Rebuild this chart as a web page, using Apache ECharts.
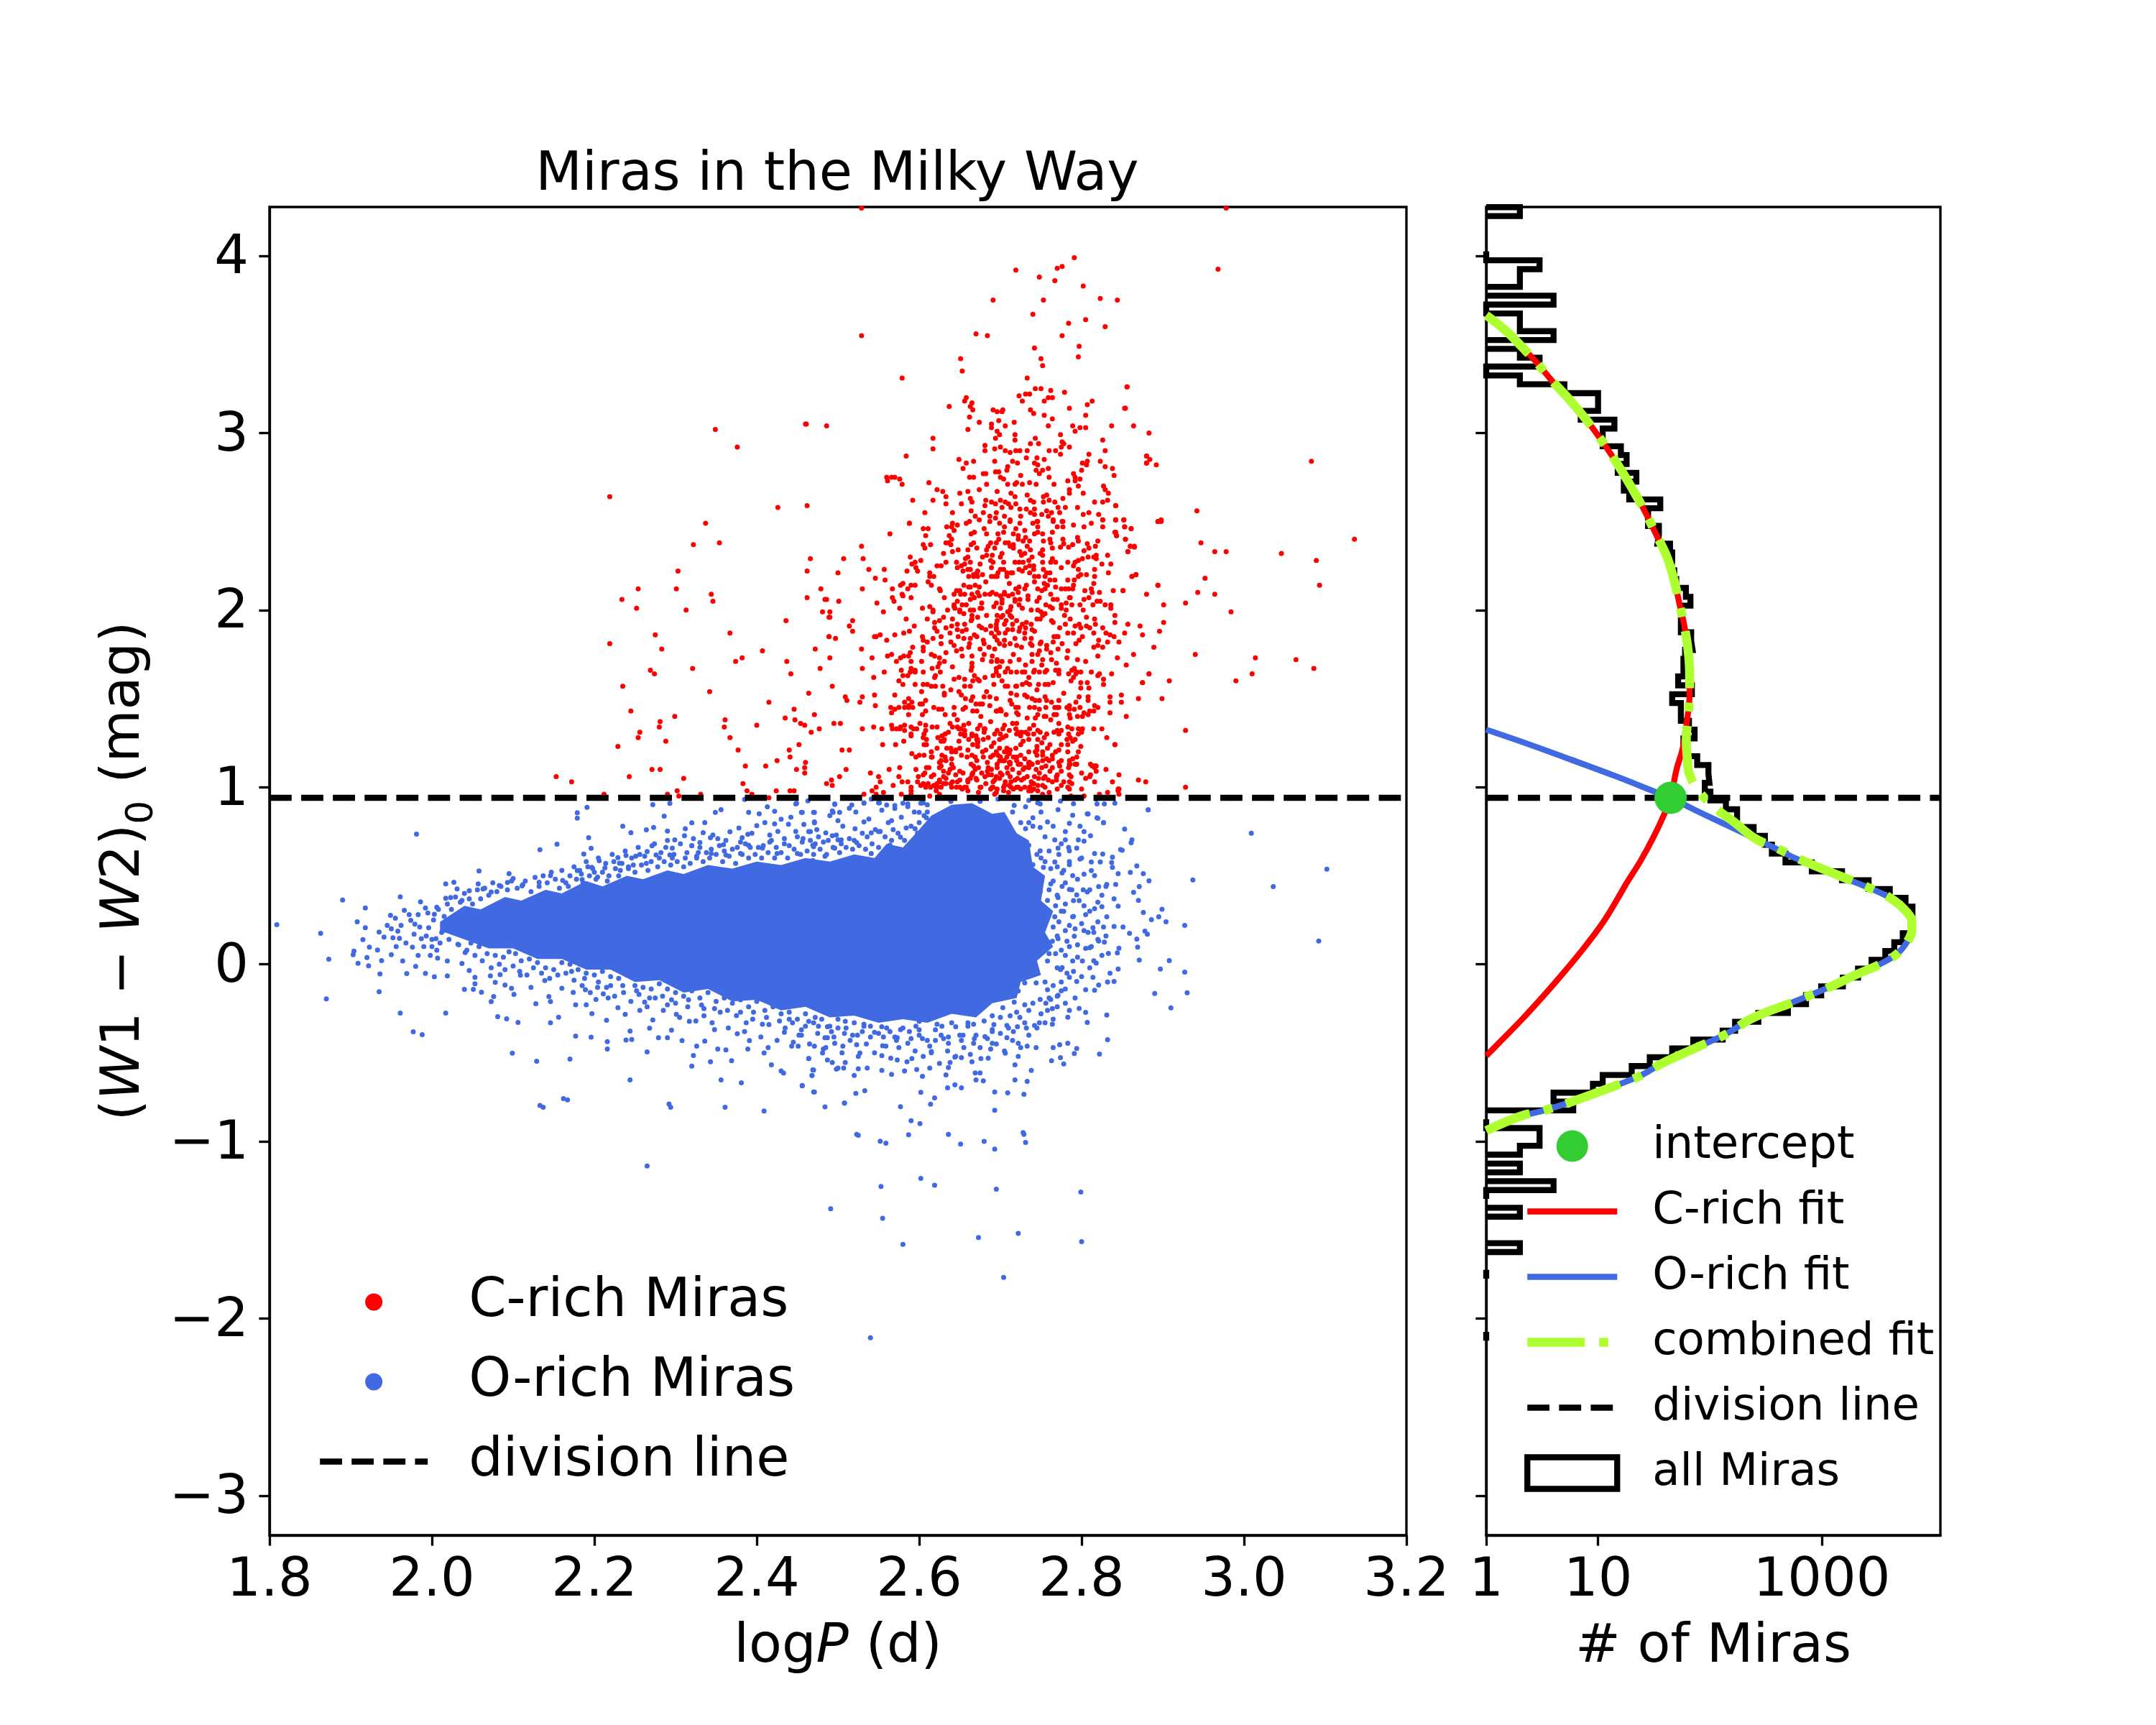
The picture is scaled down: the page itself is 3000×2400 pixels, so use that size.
<!DOCTYPE html>
<html>
<head>
<meta charset="utf-8">
<title>Miras in the Milky Way</title>
<script src="https://cdn.jsdelivr.net/npm/echarts@6/dist/echarts.min.js"></script>
<style>
html, body { margin: 0; padding: 0; background: #fff; }
#chart { width: 3000px; height: 2400px; }
</style>
</head>
<body>
<div id="chart"></div>
<script>
// tick labels
var logPTicks = [1.8, 2.0, 2.2, 2.4, 2.6, 2.8, 3.0, 3.2];
var colorTicks = [-3, -2, -1, 0, 1, 2, 3, 4];
var countTicks = [1, 10, 1000];
var divisionColor = 0.94;
var interceptCount = 44.5;

// C-rich Miras: logP, colour, logP, colour, ...
var cRichPoints = [
2.529,4.27,2.978,4.27,2.968,3.925,2.791,3.99,2.776,3.94,2.770,3.93,2.719,3.92,2.748,3.88,2.767,3.86,2.802,3.83,2.691,3.75,2.753,3.75,2.823,3.76,2.844,3.75,
2.740,3.67,2.784,3.62,2.805,3.64,2.829,3.60,2.529,3.55,2.670,3.56,2.684,3.55,2.776,3.55,2.742,3.48,2.797,3.49,2.796,3.43,2.651,3.42,2.750,3.42,2.653,3.35,
2.752,3.38,2.579,3.31,2.733,3.31,2.856,3.26,2.743,3.25,2.750,3.25,2.762,3.24,2.779,3.23,2.723,3.21,2.731,3.22,2.736,3.22,2.759,3.20,2.764,3.20,2.727,3.18,
2.754,3.18,2.658,3.20,2.656,3.18,2.665,3.17,2.663,3.15,2.637,3.15,2.666,3.13,2.691,3.13,2.696,3.12,2.703,3.13,2.702,3.12,2.737,3.13,2.741,3.11,2.754,3.10,
2.764,3.08,2.785,3.14,2.807,3.16,2.813,3.18,2.805,3.10,2.853,3.14,2.662,3.09,2.674,3.06,2.689,3.05,2.698,3.07,2.717,3.06,2.461,3.05,2.486,3.04,2.689,3.03,
2.706,3.04,2.759,3.04,2.789,3.04,2.798,3.03,2.805,3.03,2.837,3.04,2.864,3.04,2.660,3.02,2.696,3.01,2.792,3.01,2.699,2.99,2.718,2.99,2.774,2.99,2.883,3.00,
2.617,2.97,2.694,2.97,2.743,2.97,2.718,2.96,2.826,2.96,2.776,2.95,2.737,2.94,2.747,2.94,2.778,2.94,2.681,2.93,2.700,2.92,2.785,2.92,2.775,2.92,2.617,2.91,
2.693,2.91,2.719,2.90,2.724,2.90,2.681,2.90,2.706,2.90,2.712,2.89,2.733,2.90,2.760,2.90,2.768,2.90,2.829,2.90,2.774,2.88,2.809,2.88,2.584,2.87,2.880,2.87,
2.745,2.86,2.732,2.86,2.649,2.85,2.667,2.84,2.693,2.84,2.715,2.84,2.754,2.85,2.807,2.84,2.658,2.83,2.721,2.83,2.742,2.83,2.801,2.83,2.823,2.84,2.880,2.83,
2.746,2.82,2.709,2.81,2.806,2.82,2.829,2.81,2.654,2.80,2.744,2.79,2.759,2.80,2.838,2.80,2.708,2.79,2.752,2.79,2.800,2.79,2.694,2.78,2.698,2.78,2.748,2.77,
2.682,2.77,2.679,2.77,2.790,2.77,2.840,2.76,2.560,2.75,2.566,2.75,2.570,2.75,2.662,2.75,2.667,2.75,2.700,2.75,2.725,2.76,2.760,2.75,2.792,2.75,2.704,2.74,
2.576,2.74,2.798,2.74,2.561,2.73,2.612,2.72,2.783,2.73,2.792,2.73,2.683,2.71,2.720,2.72,2.718,2.71,2.727,2.71,2.736,2.72,2.709,2.71,2.744,2.71,2.579,2.71,2.766,2.71,
// 2.5 to 2.7
2.622,2.68,2.629,2.67,2.650,2.66,2.660,2.67,2.674,2.68,2.696,2.67,2.713,2.66,2.718,2.64,2.733,2.65,2.757,2.65,2.753,2.64,2.785,2.68,2.785,2.66,2.796,2.70,2.802,2.66,2.827,2.70,2.829,2.68,
2.833,2.66,2.592,2.62,2.617,2.62,2.633,2.64,2.633,2.60,2.663,2.63,2.665,2.61,2.652,2.60,2.682,2.62,2.689,2.61,2.700,2.62,2.694,2.60,2.706,2.61,2.710,2.60,2.713,2.58,2.702,2.58,2.719,2.60,
2.737,2.62,2.741,2.61,2.753,2.61,2.760,2.62,2.767,2.61,2.777,2.63,2.771,2.58,2.780,2.58,2.795,2.58,2.816,2.61,2.826,2.61,2.832,2.62,2.842,2.59,2.681,2.59,2.664,2.56,2.641,2.55,2.607,2.55,
2.679,2.55,2.695,2.55,2.724,2.57,2.732,2.57,2.742,2.57,2.757,2.56,2.763,2.55,2.737,2.55,2.742,2.54,2.751,2.54,2.773,2.55,2.809,2.55,2.802,2.54,2.821,2.54,2.669,2.53,2.687,2.53,2.705,2.53,
2.725,2.53,2.759,2.53,2.826,2.51,2.842,2.51,2.852,2.51,2.674,2.51,2.694,2.52,2.712,2.50,2.745,2.50,2.765,2.50,2.776,2.50,2.588,2.49,
// core, upper part
2.588,2.49,2.605,2.46,2.611,2.46,2.634,2.47,2.641,2.49,2.640,2.47,2.647,2.48,2.658,2.49,2.662,2.50,2.680,2.46,2.687,2.50,2.699,2.49,2.705,2.47,2.712,2.51,2.719,2.46,2.724,2.49,
2.730,2.45,2.740,2.49,2.746,2.50,2.746,2.47,2.765,2.51,2.770,2.47,2.777,2.50,2.777,2.47,2.790,2.48,2.803,2.47,2.812,2.49,2.826,2.51,2.826,2.47,2.842,2.51,2.852,2.51,2.853,2.47,
2.861,2.46,2.894,2.50,2.898,2.51,2.564,2.43,2.608,2.42,2.637,2.42,2.643,2.45,2.664,2.43,2.683,2.43,2.697,2.43,2.704,2.44,2.716,2.43,2.722,2.42,2.742,2.43,2.746,2.44,2.752,2.43,
2.764,2.44,2.841,2.44,2.843,2.42,2.854,2.40,2.529,2.36,2.605,2.37,2.607,2.35,2.614,2.37,2.633,2.38,2.636,2.38,2.639,2.37,2.640,2.40,2.648,2.34,2.660,2.34,2.664,2.37,2.667,2.38,
2.671,2.35,2.683,2.34,2.685,2.36,2.688,2.38,2.693,2.35,2.695,2.38,2.698,2.40,2.706,2.38,2.710,2.38,2.716,2.37,2.716,2.35,2.722,2.40,2.728,2.39,2.731,2.41,2.736,2.39,2.733,2.36,
2.737,2.34,2.752,2.34,2.761,2.40,2.762,2.38,2.764,2.35,2.777,2.40,2.774,2.355,2.778,2.375,2.784,2.355,2.789,2.37,2.795,2.41,2.796,2.39,2.807,2.375,2.803,2.335,2.809,2.35,2.817,2.36,
2.820,2.39,2.857,2.33,2.860,2.36,2.865,2.355,
2.507,2.29,2.531,2.29,2.589,2.30,2.595,2.27,2.591,2.26,2.602,2.28,2.630,2.32,2.641,2.33,2.633,2.27,2.622,2.25,2.627,2.25,2.646,2.27,2.657,2.29,2.660,2.30,2.663,2.27,2.656,2.26,
2.678,2.30,2.683,2.31,2.690,2.31,2.688,2.28,2.691,2.27,2.700,2.30,2.702,2.32,2.704,2.27,2.718,2.27,2.724,2.33,2.723,2.27,2.728,2.27,2.730,2.32,2.726,2.31,2.739,2.30,2.749,2.32,
2.752,2.31,2.752,2.27,2.762,2.27,2.764,2.29,2.768,2.27,2.783,2.27,2.792,2.27,2.796,2.28,2.801,2.29,2.808,2.30,2.815,2.30,2.818,2.31,2.818,2.29,2.825,2.26,2.832,2.31,2.836,2.26,
2.500,2.21,2.538,2.23,2.557,2.23,2.546,2.18,2.558,2.17,2.585,2.22,2.598,2.22,2.596,2.24,2.613,2.21,2.613,2.19,2.618,2.19,2.647,2.24,2.654,2.22,2.652,2.25,2.660,2.23,2.663,2.23,
2.661,2.19,2.667,2.19,2.667,2.20,2.671,2.21,2.672,2.22,2.672,2.19,2.678,2.20,2.689,2.24,2.689,2.19,2.693,2.19,2.696,2.19,2.697,2.21,2.700,2.23,2.704,2.23,2.708,2.21,2.708,2.19,
2.713,2.21,2.715,2.21,2.723,2.23,2.727,2.22,2.731,2.24,2.736,2.25,2.741,2.25,2.741,2.23,2.736,2.21,2.742,2.19,2.747,2.19,2.753,2.23,2.755,2.19,2.757,2.21,2.761,2.21,2.761,2.17,
2.767,2.17,2.783,2.17,2.790,2.25,2.796,2.23,2.791,2.17,2.796,2.19,2.799,2.20,2.806,2.20,2.816,2.19,2.816,2.23,2.833,2.21,2.862,2.19,2.867,2.20,
2.530,2.12,2.567,2.12,2.567,2.07,2.577,2.14,2.580,2.15,2.590,2.14,2.586,2.12,2.595,2.14,2.579,2.09,2.580,2.08,2.590,2.07,2.611,2.16,2.615,2.14,2.625,2.12,2.626,2.11,2.643,2.09,
2.646,2.11,2.650,2.11,2.655,2.14,2.651,2.09,2.656,2.09,2.661,2.13,2.663,2.13,2.665,2.09,2.669,2.14,2.672,2.10,2.674,2.13,2.674,2.08,2.681,2.09,2.687,2.09,2.690,2.10,2.695,2.09,
2.700,2.08,2.705,2.10,2.705,2.09,2.710,2.08,2.715,2.09,2.719,2.12,2.723,2.13,2.722,2.10,2.730,2.12,2.732,2.14,2.734,2.08,2.746,2.12,2.751,2.11,2.754,2.15,2.755,2.12,
2.758,2.14,2.762,2.09,2.775,2.12,2.780,2.12,2.784,2.12,2.790,2.14,2.789,2.12,2.785,2.07,2.804,2.11,2.812,2.12,2.815,2.15,2.813,2.10,2.822,2.10,2.839,2.11,2.851,2.11,2.880,2.09,2.894,2.14,
2.486,2.06,2.501,2.05,2.548,2.04,2.569,2.05,2.576,2.01,2.490,1.99,2.556,1.99,2.604,2.01,2.613,2.02,2.617,2.00,2.617,1.99,2.631,2.07,2.643,2.02,2.643,2.03,2.635,2.00,2.647,2.05,
2.644,2.01,2.653,2.03,2.650,2.00,2.658,2.03,2.650,1.99,2.663,2.00,2.655,1.98,2.667,2.00,2.668,2.07,2.677,2.04,2.677,2.01,2.675,2.01,2.695,2.04,2.702,2.06,2.702,2.04,2.700,2.01,
2.713,2.02,2.712,2.00,2.709,1.99,2.718,2.06,2.718,2.05,2.724,2.06,2.723,2.03,2.734,2.06,2.738,2.00,2.748,2.07,2.745,2.05,2.746,2.00,2.750,1.99,2.756,2.03,2.761,2.02,2.764,2.01,
2.765,2.06,2.770,2.06,2.775,2.03,2.775,2.01,2.781,2.04,2.786,2.07,2.788,2.03,2.781,2.00,2.798,2.03,2.803,2.06,2.802,2.00,2.809,2.07,2.814,2.03,2.819,2.05,2.823,2.05,2.829,2.03,
2.836,2.03,2.836,2.01,2.901,2.03,2.928,2.04,
2.490,1.96,2.518,1.94,2.514,1.91,2.518,1.88,2.584,1.95,2.594,1.91,2.588,1.88,2.610,1.95,2.619,1.93,2.619,1.90,2.625,1.94,2.630,1.96,2.633,1.90,2.622,1.88,2.641,1.95,2.647,1.92,
2.640,1.91,2.647,1.89,2.656,1.92,2.658,1.89,2.664,1.94,2.665,1.97,2.665,1.95,2.674,1.91,2.677,1.90,2.682,1.89,2.683,1.97,2.688,1.91,2.695,1.92,2.695,1.90,2.695,1.89,2.696,1.97,
2.696,1.94,2.703,1.97,2.701,1.96,2.705,1.92,2.712,1.97,2.714,1.96,2.715,1.92,2.715,1.89,2.709,1.89,2.720,1.94,2.724,1.90,2.723,1.88,2.727,1.92,2.731,1.90,2.732,1.93,2.738,1.92,
2.739,1.89,2.745,1.95,2.749,1.95,2.752,1.97,2.763,1.94,2.765,1.93,2.780,1.92,2.779,1.97,2.786,1.95,2.792,1.91,2.797,1.92,2.799,1.90,2.806,1.96,2.806,1.91,2.816,1.95,2.817,1.92,
2.810,1.90,2.826,1.90,2.841,1.93,2.857,1.92,2.872,1.91,2.901,1.93,2.896,1.88,
2.489,1.85,2.497,1.84,2.545,1.85,2.547,1.85,2.552,1.86,2.560,1.83,2.570,1.86,2.581,1.87,2.604,1.85,2.605,1.83,2.610,1.82,2.617,1.84,2.627,1.85,2.627,1.81,2.638,1.87,2.639,1.82,
2.643,1.80,2.648,1.85,2.655,1.84,2.662,1.81,2.663,1.84,2.668,1.86,2.671,1.85,2.679,1.83,2.680,1.81,2.693,1.85,2.696,1.83,2.699,1.81,2.689,1.87,2.698,1.87,2.706,1.87,2.705,1.83,
2.712,1.81,2.720,1.80,2.730,1.87,2.730,1.84,2.738,1.84,2.737,1.81,2.739,1.80,2.749,1.81,2.750,1.82,2.757,1.80,2.765,1.82,2.766,1.85,2.769,1.85,2.771,1.85,2.776,1.81,2.783,1.87,
2.790,1.87,2.797,1.83,2.801,1.85,2.793,1.81,2.815,1.87,2.821,1.83,2.820,1.80,2.830,1.87,2.835,1.86,2.840,1.85,2.832,1.82,2.846,1.82,2.853,1.87,2.875,1.86,
2.529,1.78,2.490,1.73,2.542,1.73,2.561,1.74,2.566,1.75,2.581,1.74,2.589,1.76,2.592,1.79,2.587,1.74,2.577,1.73,2.572,1.71,2.590,1.71,2.603,1.71,2.605,1.79,2.605,1.77,2.615,1.75,
2.619,1.74,2.625,1.73,2.625,1.70,2.633,1.76,2.623,1.68,2.631,1.71,2.646,1.77,2.652,1.78,2.653,1.74,2.661,1.79,2.665,1.74,2.665,1.70,2.665,1.68,2.675,1.78,2.680,1.75,2.690,1.74,
2.693,1.78,2.689,1.71,2.696,1.72,2.696,1.71,2.702,1.71,2.716,1.75,2.705,1.80,2.699,1.68,2.695,1.67,2.712,1.71,2.723,1.72,2.726,1.79,2.739,1.75,2.739,1.71,2.746,1.75,2.752,1.72,
2.751,1.69,2.757,1.78,2.762,1.76,2.769,1.70,2.763,1.72,2.771,1.78,2.783,1.77,2.782,1.73,2.795,1.72,2.791,1.67,2.805,1.71,2.815,1.79,2.826,1.79,2.820,1.74,2.855,1.69,
2.578,1.66,2.590,1.67,2.605,1.65,2.616,1.67,2.626,1.65,2.664,1.66,2.695,1.65,2.709,1.67,2.730,1.65,2.757,1.66,2.772,1.66,2.784,1.64,2.793,1.64,2.822,1.64,2.837,1.64,
// core, lower part
2.493,1.57,2.530,1.67,2.544,1.62,2.557,1.65,2.575,1.60,2.580,1.58,2.580,1.63,2.586,1.63,2.595,1.66,2.589,1.65,2.595,1.65,2.595,1.58,2.605,1.58,2.603,1.54,2.610,1.58,2.615,1.57,
2.620,1.57,2.619,1.62,2.620,1.63,2.629,1.57,2.631,1.53,2.639,1.55,2.649,1.54,2.649,1.62,2.656,1.57,2.656,1.61,2.663,1.57,2.666,1.60,2.672,1.61,2.674,1.60,2.681,1.62,2.691,1.63,
2.692,1.58,2.698,1.63,2.706,1.57,2.709,1.57,2.713,1.65,2.706,1.65,2.719,1.57,2.720,1.65,2.720,1.57,2.727,1.58,2.727,1.65,2.732,1.59,2.736,1.58,2.741,1.65,2.742,1.66,2.747,1.58,
2.748,1.65,2.755,1.65,2.755,1.58,2.759,1.58,2.772,1.64,2.788,1.66,2.787,1.60,2.790,1.62,2.794,1.65,2.799,1.65,2.799,1.59,2.799,1.56,2.807,1.59,2.812,1.65,2.809,1.56,2.820,1.63,
2.827,1.61,2.827,1.58,2.875,1.59,2.883,1.64,2.908,1.60,
2.509,1.51,2.511,1.49,2.527,1.48,2.530,1.51,2.545,1.52,2.546,1.46,2.570,1.52,2.565,1.45,2.570,1.44,2.566,1.42,2.575,1.45,2.582,1.45,2.582,1.48,2.587,1.45,2.587,1.41,2.587,1.50,
2.587,1.46,2.592,1.45,2.591,1.48,2.601,1.47,2.604,1.41,2.604,1.47,2.608,1.49,2.608,1.43,2.618,1.45,2.624,1.44,2.628,1.44,2.631,1.52,2.632,1.41,2.643,1.45,2.643,1.41,2.657,1.45,
2.654,1.44,2.657,1.50,2.664,1.49,2.666,1.51,2.666,1.43,2.671,1.43,2.675,1.47,2.678,1.47,2.670,1.47,2.687,1.46,2.680,1.51,2.687,1.51,2.695,1.50,2.695,1.43,2.700,1.44,
2.696,1.43,2.701,1.43,2.712,1.49,2.714,1.47,2.719,1.45,2.720,1.52,2.720,1.42,2.730,1.52,2.722,1.45,2.722,1.41,2.733,1.51,2.736,1.45,2.739,1.50,2.742,1.45,2.748,1.49,2.743,1.49,
2.746,1.41,2.743,1.39,2.748,1.44,2.754,1.40,2.755,1.51,2.757,1.49,2.756,1.45,2.756,1.40,2.763,1.48,2.767,1.45,2.770,1.45,2.769,1.41,2.766,1.41,2.772,1.49,2.772,1.45,2.782,1.45,
2.785,1.46,2.785,1.41,2.786,1.39,2.791,1.44,2.795,1.40,2.797,1.51,2.793,1.48,2.785,1.44,2.798,1.45,2.803,1.42,2.801,1.40,2.808,1.51,2.808,1.49,2.808,1.41,2.810,1.43,2.816,1.46,
2.815,1.43,2.820,1.45,2.835,1.48,2.835,1.51,2.835,1.42,2.849,1.52,2.849,1.48,2.899,1.50,2.870,1.50,
2.495,1.36,2.503,1.36,2.530,1.33,2.544,1.34,2.554,1.33,2.566,1.35,2.567,1.33,2.576,1.33,2.572,1.33,2.577,1.34,2.582,1.32,2.582,1.35,2.590,1.34,2.590,1.29,2.590,1.30,2.593,1.33,
2.601,1.36,2.597,1.33,2.605,1.28,2.606,1.30,2.608,1.32,2.608,1.35,2.609,1.27,2.616,1.34,2.622,1.34,2.628,1.29,2.623,1.28,2.632,1.30,2.641,1.34,2.638,1.36,2.631,1.27,2.627,1.26,
2.630,1.26,2.647,1.34,2.651,1.33,2.651,1.30,2.655,1.35,2.649,1.33,2.656,1.32,2.661,1.36,2.656,1.29,2.661,1.27,2.665,1.30,2.656,1.30,2.670,1.29,2.672,1.33,2.671,1.27,
2.675,1.35,2.672,1.27,2.672,1.25,2.672,1.26,2.665,1.29,2.680,1.33,2.681,1.33,2.680,1.31,2.685,1.28,2.679,1.27,2.693,1.30,2.696,1.32,2.699,1.27,2.700,1.30,2.703,1.33,2.705,1.35,
2.703,1.28,2.707,1.29,2.711,1.32,2.720,1.36,2.719,1.33,2.720,1.30,2.722,1.31,2.725,1.29,2.726,1.31,2.731,1.31,2.736,1.33,2.735,1.27,2.728,1.26,2.734,1.30,2.741,1.30,2.746,1.32,
2.746,1.27,2.749,1.31,2.757,1.30,2.754,1.28,2.766,1.31,2.772,1.30,2.770,1.32,2.775,1.32,2.783,1.34,2.784,1.30,2.788,1.33,2.786,1.28,2.789,1.26,2.796,1.33,2.796,1.30,2.792,1.27,
2.800,1.31,2.801,1.33,2.815,1.33,2.825,1.33,2.831,1.28,
2.505,1.21,2.514,1.21,2.555,1.24,2.571,1.24,2.581,1.26,2.591,1.19,2.600,1.18,2.606,1.18,2.596,1.17,2.606,1.24,2.609,1.24,2.616,1.17,2.615,1.20,2.622,1.22,2.625,1.14,2.628,1.18,
2.615,1.17,2.627,1.15,2.639,1.22,2.640,1.20,2.632,1.17,2.633,1.15,2.640,1.13,2.645,1.21,2.640,1.16,2.645,1.20,2.652,1.18,2.650,1.22,2.659,1.17,2.665,1.18,2.660,1.21,2.672,1.23,
2.669,1.17,2.678,1.20,2.671,1.15,2.679,1.17,2.682,1.21,2.684,1.14,2.689,1.23,2.688,1.17,2.696,1.13,2.691,1.18,2.695,1.20,2.697,1.18,2.699,1.15,2.700,1.17,2.705,1.20,2.708,1.22,
2.699,1.22,2.702,1.15,2.704,1.15,2.711,1.19,2.712,1.14,2.712,1.13,2.711,1.14,2.712,1.21,2.705,1.15,2.719,1.22,2.708,1.20,2.716,1.17,2.708,1.17,2.720,1.17,2.723,1.13,2.720,1.15,
2.725,1.18,2.722,1.13,2.725,1.13,2.730,1.16,2.735,1.20,2.735,1.14,2.739,1.13,2.736,1.14,2.743,1.20,2.735,1.13,2.745,1.23,2.745,1.21,2.745,1.18,2.746,1.14,2.739,1.13,2.752,1.15,
2.752,1.20,2.752,1.18,2.758,1.22,2.757,1.16,2.760,1.15,2.761,1.24,2.764,1.18,2.764,1.16,2.768,1.20,2.775,1.24,2.772,1.21,2.772,1.14,2.775,1.15,2.783,1.24,2.783,1.20,2.785,1.15,
2.785,1.13,2.792,1.13,2.794,1.13,2.799,1.23,2.796,1.20,2.794,1.17,2.789,1.16,2.811,1.13,2.815,1.12,2.818,1.12,2.817,1.12,2.841,1.24,
2.510,1.10,2.502,1.06,2.540,1.08,2.550,1.06,2.552,1.03,2.547,1.00,2.563,1.10,2.576,1.11,2.575,1.06,2.568,1.01,2.579,1.03,2.586,1.03,2.596,1.10,2.598,1.03,2.599,1.06,2.605,1.02,
2.602,1.01,2.607,1.08,2.605,1.07,2.611,1.02,2.609,1.11,2.612,1.11,2.618,1.07,2.614,1.00,2.608,1.01,2.615,1.06,2.618,1.01,2.622,1.00,2.625,1.03,2.622,1.02,2.621,1.00,2.625,1.11,
2.625,1.04,2.630,1.02,2.627,1.12,2.638,1.10,2.630,1.09,2.630,1.06,2.639,1.02,2.627,1.00,2.633,1.02,2.636,1.08,2.642,1.11,2.641,1.03,2.647,1.03,2.650,1.04,2.646,1.00,2.650,1.09,
2.654,1.08,2.656,1.00,2.658,1.00,2.665,1.07,2.660,1.03,2.660,1.04,2.663,1.05,2.667,1.12,2.666,1.08,2.671,1.04,2.673,1.11,2.669,1.10,2.670,1.05,2.676,1.00,2.677,1.08,2.684,1.09,
2.685,1.07,2.682,1.02,2.685,1.11,2.689,1.10,2.690,1.00,2.689,1.07,2.691,1.03,2.693,1.04,2.691,1.00,2.696,1.11,2.699,1.05,2.700,1.08,2.704,1.00,2.702,1.07,2.706,1.03,2.709,1.08,
2.708,1.11,2.705,1.01,2.711,1.01,2.718,1.04,2.713,1.03,2.715,1.10,2.720,1.00,2.721,1.05,2.729,1.05,2.723,1.08,2.730,1.11,2.726,1.04,2.735,1.11,2.730,1.00,2.733,1.06,2.736,1.00,
2.738,1.03,2.742,1.06,2.739,1.02,2.741,1.02,2.746,1.01,2.751,1.11,2.755,1.06,2.753,1.05,2.756,1.12,2.747,1.05,2.752,1.01,2.759,1.04,2.761,1.09,2.764,1.03,2.764,1.11,
2.769,1.06,2.773,1.12,2.770,1.07,2.769,1.04,2.778,1.03,2.787,1.06,2.788,1.02,2.783,1.00,2.785,1.07,2.786,1.13,2.785,1.03,2.784,1.11,2.793,1.13,2.800,1.08,2.805,1.05,2.816,1.11,
2.813,1.12,2.811,1.07,2.810,1.06,2.816,1.03,2.818,1.09,2.830,1.10,2.838,1.03,2.846,1.07,
2.486,1.02,2.492,1.04,2.493,1.01,2.542,.98,2.547,.96,2.532,.96,2.556,.97,2.578,.96,2.590,.98,2.590,.96,2.590,1.00,2.608,1.00,2.613,.95,2.621,.98,2.625,.96,2.640,1.00,2.650,1.00,
2.653,.99,2.660,.98,2.673,.97,2.688,.99,2.693,.96,2.696,.99,2.704,.98,2.710,.97,2.716,.99,2.725,.99,2.735,.98,2.722,1.00,2.738,.98,2.741,.99,2.746,.98,2.752,.96,2.760,.97,2.770,.99,
2.787,.95,2.785,.99,2.800,.99,2.803,.95,2.822,.96,2.832,.97,2.845,.98,2.845,.99,2.846,.96,2.928,1.00,
// gaps of the crowded part
2.668,2.44,2.712,2.36,2.753,2.39,2.675,2.26,2.735,2.28,2.775,2.24,2.682,2.16,2.711,2.15,2.742,2.16,2.768,2.13,2.663,2.06,2.692,2.02,2.727,2.01,2.755,1.98,2.672,1.96,2.707,1.94,2.742,1.88,
2.773,1.90,2.653,1.88,2.686,1.79,2.718,1.84,2.748,1.77,2.678,1.72,2.731,1.69,2.768,1.66,2.641,1.68,2.668,1.63,2.702,1.60,2.735,1.62,2.765,1.59,2.643,1.61,2.683,1.54,2.713,1.53,2.745,1.55,
2.778,1.53,2.652,1.52,2.676,1.40,2.707,1.41,2.733,1.39,2.762,1.38,2.647,1.38,2.688,1.37,2.715,1.36,2.741,1.35,2.772,1.36,2.636,1.31,2.666,1.24,2.692,1.25,2.725,1.24,2.751,1.25,2.782,1.27,
2.649,1.26,2.634,1.22,2.728,1.10,2.744,1.10,2.664,1.13,2.681,1.06,2.695,1.06,2.712,1.06,2.748,1.08,2.775,1.09,2.633,1.05,2.645,1.07,2.695,.97,2.675,1.00,2.713,1.00,2.755,1.00,2.775,1.01,
// left wing
2.349,3.02,2.376,2.92,2.460,3.05,2.219,2.64,2.426,2.58,2.462,2.59,2.337,2.49,2.322,2.37,2.354,2.38,2.466,2.29,2.303,2.22,2.462,2.22,2.254,2.12,2.301,2.12,2.234,2.06,2.344,2.09,
2.346,2.05,2.479,2.12,2.462,2.07,2.484,2.06,2.252,2.01,2.313,2.00,2.481,1.99,2.489,1.96,2.436,1.94,2.275,1.86,2.367,1.87,2.489,1.85,2.219,1.81,2.283,1.78,2.407,1.77,2.472,1.78,
2.382,1.73,2.374,1.71,2.437,1.71,2.269,1.66,2.274,1.64,2.321,1.67,2.478,1.67,2.442,1.64,2.235,1.57,2.342,1.54,2.464,1.53,2.415,1.48,2.446,1.44,2.245,1.43,2.299,1.40,2.471,1.41,
2.281,1.37,2.361,1.38,2.435,1.39,2.447,1.38,2.280,1.34,2.360,1.34,2.400,1.35,2.454,1.36,2.459,1.35,2.477,1.33,2.256,1.31,2.467,1.31,2.254,1.28,2.367,1.28,2.288,1.26,2.452,1.24,
2.229,1.23,2.377,1.21,2.440,1.21,2.441,1.17,2.425,1.15,2.460,1.14,2.386,1.12,2.411,1.12,2.459,1.11,2.281,1.10,2.271,1.10,2.449,1.10,2.459,1.08,2.153,1.06,2.243,1.06,2.310,1.05,
2.172,1.03,2.383,1.02,2.302,.98,2.388,.98,2.424,.98,2.441,.98,2.446,.98,2.212,.96,2.290,.96,2.331,.96,2.394,.96,2.304,.95,2.415,.94,
// right wing
2.856,3.26,2.854,3.14,2.880,2.87,2.884,2.85,2.880,2.83,2.892,2.82,3.083,2.84,2.842,2.59,2.942,2.56,2.842,2.51,2.852,2.51,2.898,2.50,2.894,2.50,2.853,2.47,2.861,2.46,2.842,2.44,
2.843,2.42,3.136,2.40,2.854,2.40,2.860,2.36,2.865,2.36,2.947,2.38,2.857,2.33,2.964,2.33,2.978,2.33,3.046,2.32,3.089,2.28,2.867,2.20,2.862,2.19,2.952,2.18,2.894,2.14,3.093,2.14,
2.851,2.11,2.943,2.10,2.964,2.09,2.984,1.99,2.841,1.97,2.889,1.79,2.864,1.75,2.940,1.75,2.844,1.73,3.014,1.73,3.064,1.72,3.086,1.67,2.883,1.64,3.010,1.64,2.875,1.59,2.990,1.60,
2.855,1.40,2.928,1.32,2.841,1.24,2.870,1.04,2.879,1.03,2.846,.99
];

// O-rich Miras outside the solid core: logP, colour, logP, colour, ...
var oRichPoints = [
1.809,.224,1.981,.735,1.890,.363,1.918,.318,1.863,.175,1.873,.029,1.870,-.195,1.908,.240,1.918,.206,1.915,.139,1.904,.074,1.903,.054,1.909,.005,1.922,-.009,1.920,.038,1.923,.097,
1.935,.182,1.941,.154,1.933,.081,1.938,.021,1.936,-.054,1.935,-.155,1.949,.276,1.961,.381,1.966,.305,1.950,.200,1.960,.147,1.956,.100,1.950,.054,1.964,.019,1.969,-.052,1.961,-.276,
1.977,-.381,1.988,-.397,2.017,-.276,1.986,.352,1.992,.318,1.983,.280,1.974,.248,1.979,.227,1.958,.187,1.987,.144,1.976,.097,1.983,.050,1.980,-.012,1.992,-.051,2.003,-.071,2.019,-.066,
2.017,.454,2.027,.463,2.031,.426,2.017,.373,2.023,.377,2.006,.322,2.037,.361,2.003,.283,2.025,.237,1.996,.206,2.005,.144,2.014,.190,2.000,.100,2.019,.019,2.007,.035,2.032,.113,
2.041,.066,2.037,.004,2.046,-.035,2.040,-.142,2.051,-.142,2.053,-.074,2.053,-.110,2.061,-.158,2.073,-.211,2.076,-.182,2.081,-.296,2.092,-.308,2.106,-.328,2.099,-.502,2.129,-.547,
2.137,-.807,2.162,-.759,2.170,-.535,2.146,-.330,2.156,-.299,2.128,-.223,2.144,-.182,2.146,-.211,2.101,-.170,2.090,-.117,2.098,-.136,2.078,-.102,2.122,-.130,2.084,-.058,2.109,-.061,
2.072,-.066,2.139,-.092,2.160,-.136,2.177,-.405,2.197,-.279,2.196,-.412,2.215,-.316,2.216,-.437,2.216,-.478,2.177,-.229,2.190,-.229,2.202,-.198,2.174,-.159,2.189,-.144,2.211,-.167,
2.217,-.190,2.229,-.245,2.238,-.283,2.239,-.428,2.246,-.425,2.244,-.377,2.244,-.653,2.265,-.495,2.268,-.361,2.272,-.314,2.256,-.260,2.262,-.214,2.279,-.415,2.290,-.415,2.294,-.807,
2.295,-.372,2.308,-.431,2.301,-.283,2.290,-.229,2.317,-.322,2.320,-.575,2.322,-.515,2.326,-.462,2.343,-.551,2.356,-.653,2.361,-.807,2.352,-.478,2.336,-.434,2.348,-.369,2.335,-.291,
2.362,-.484,2.369,-.544,2.381,-.669,2.376,-.392,2.387,-.330,2.391,-.431,2.389,-.478,2.418,-.568,2.430,-.602,2.433,-.614,2.456,-.684,2.471,-.721,2.468,-.628,2.469,-.596,2.508,-.784,
2.464,-.532,2.481,-.501,2.493,-.555,2.500,-.586,2.471,-.462,2.443,-.462,2.409,-.501,2.414,-.470,2.452,-.400,2.434,-.384,2.407,-.338,2.484,-.415,2.506,-.462,
2.058,.527,2.095,.512,2.100,.484,2.057,.454,2.083,.445,2.093,.462,2.111,.443,2.046,.415,2.063,.426,2.073,.408,2.132,.463,2.146,.501,2.133,.647,2.154,.678,2.179,.529,2.161,.473,
2.185,.478,2.187,.622,2.196,.655,2.193,.715,2.179,.856,2.179,.825,2.191,.886,2.235,.780,2.245,.743,2.206,.585,2.197,.547,2.213,.544,2.204,.493,2.229,.602,2.239,.614,2.251,.610,
2.242,.540,2.231,.571,2.272,.901,2.293,.909,2.286,.836,2.264,.759,2.273,.773,2.290,.752,2.271,.669,2.265,.637,2.276,.617,2.299,.703,2.296,.656,2.293,.617,2.312,.765,2.320,.799,
2.336,.800,2.334,.743,2.311,.726,2.320,.669,2.330,.687,2.326,.610,2.343,.715,2.349,.858,2.356,.873,2.367,.748,2.359,.675,2.344,.625,2.362,.617,2.382,.715,2.390,.858,2.385,.931,
2.403,.850,2.413,.889,2.400,.783,2.389,.734,2.390,.672,2.380,.625,2.407,.656,2.422,.864,2.430,.819,2.439,.791,2.422,.793,2.416,.690,2.434,.710,2.425,.625,2.449,.909,2.463,.923,
2.456,.858,2.470,.858,2.471,.799,2.457,.710,2.466,.749,2.450,.625,2.470,.664,2.493,.866,2.502,.858,2.493,.726,2.504,.703,2.484,.610,
2.448,.905,2.455,.858,2.471,.858,2.496,.905,2.494,.858,2.500,.811,2.471,.804,2.464,.749,2.485,.742,2.514,.881,2.532,.912,2.550,.912,2.532,.804,2.521,.765,2.500,.703,2.523,.687,
2.469,.672,2.496,.656,2.541,.742,2.550,.749,2.566,.811,2.586,.905,2.600,.858,2.595,.765,2.577,.718,2.564,.672,2.541,.625,2.469,.586,2.609,.827,2.717,.897,2.731,.889,2.749,.905,
2.771,.873,2.789,.842,2.807,.850,2.819,.905,2.828,.905,2.819,.827,2.827,.799,2.882,.872,2.853,.763,2.862,.703,2.861,.686,2.848,.648,2.850,.644,2.785,.796,2.803,.749,2.811,.726,
2.798,.780,2.780,.749,2.758,.804,2.749,.773,2.740,.827,2.731,.765,2.767,.703,2.780,.703,2.796,.703,2.803,.695,2.794,.656,2.785,.641,2.771,.656,2.749,.641,2.735,.672,2.816,.625,
2.826,.622,2.838,.605,2.837,.575,2.823,.578,2.812,.578,2.798,.594,2.785,.563,2.767,.578,2.753,.547,2.740,.563,2.838,.547,2.868,.555,2.860,.519,2.876,.512,2.845,.512,2.812,.529,
2.803,.509,2.789,.501,2.776,.516,2.762,.454,2.749,.408,2.749,.470,2.816,.501,2.883,.471,2.871,.439,2.864,.406,2.937,.476,3.009,.740,3.102,.537,3.036,.439,3.092,.131,2.842,.451,
2.831,.451,2.821,.439,2.807,.408,2.794,.392,2.785,.423,2.771,.377,2.758,.361,2.744,.299,2.870,.361,2.845,.328,2.825,.325,2.816,.314,2.803,.330,2.789,.268,2.778,.299,2.767,.268,
2.753,.221,2.740,.175,2.899,.311,2.876,.293,2.886,.252,2.895,.268,2.904,.240,2.927,.220,2.840,.213,2.851,.210,2.827,.210,2.814,.206,2.831,.268,2.803,.190,2.791,.159,2.780,.190,
2.771,.144,2.758,.128,2.744,.082,2.859,.175,2.868,.142,2.878,.187,2.881,.170,2.869,.097,2.846,.091,2.828,.125,2.821,.131,2.810,.094,2.833,.061,2.844,.064,2.871,.024,2.908,.021,
2.897,-.027,2.927,-.044,2.845,-.027,2.818,.007,2.801,.019,2.789,.019,2.776,-.019,2.758,.019,2.740,-.012,2.735,-.058,2.785,-.074,2.814,-.074,2.794,-.097,2.805,-.144,2.816,-.147,
2.832,-.100,2.840,-.097,2.890,-.165,2.930,-.161,2.910,-.246,2.821,-.117,2.792,-.190,2.771,-.175,2.758,-.144,2.744,-.105,2.730,-.105,2.722,-.151,2.749,-.198,2.762,-.198,2.730,-.229,
2.717,-.214,2.703,-.245,2.690,-.291,2.712,-.291,2.735,-.260,2.758,-.260,2.785,-.260,2.797,-.249,2.805,-.271,2.807,-.328,2.831,-.287,2.783,-.299,2.764,-.338,2.742,-.346,2.721,-.353,
2.708,-.346,2.690,-.369,2.667,-.338,2.645,-.353,2.622,-.338,2.600,-.322,2.577,-.369,2.554,-.353,2.532,-.338,2.509,-.322,2.487,-.353,2.464,-.322,2.832,-.426,2.822,-.507,2.794,-.475,
2.791,-.504,2.783,-.446,2.773,-.454,2.765,-.470,2.763,-.544,2.774,-.527,2.778,-.563,2.744,-.470,2.733,-.462,2.722,-.446,2.722,-.520,2.718,-.568,2.738,-.599,2.706,-.502,2.688,-.478,
2.676,-.532,2.663,-.509,2.652,-.527,2.644,-.524,2.636,-.583,2.669,-.613,2.675,-.613,2.670,-.653,2.679,-.658,2.718,-.653,2.733,-.661,2.693,-.721,2.709,-.726,2.729,-.734,2.693,-.824,
2.728,-.950,2.731,-1.006,2.693,-1.044,2.652,-.698,2.644,-.680,2.635,-.698,2.619,-.754,2.633,-.625,2.613,-.586,2.604,-.633,2.597,-.594,2.602,-.723,2.582,-.602,2.566,-.622,2.554,-.599,
2.536,-.586,2.525,-.590,2.520,-.628,2.508,-.784,2.522,-.729,2.533,-.714,2.577,-.804,2.601,-.900,2.587,-.962,2.525,-.965,2.559,-1.010,2.651,-1.015,2.507,-.586,2.498,-.592,2.470,-.597,
2.468,-.628,2.456,-.686,2.470,-.721,2.464,-.532,2.487,-.540,2.509,-.555,2.527,-.501,2.554,-.516,2.573,-.540,2.591,-.532,2.615,-.493,2.638,-.555,2.482,-.478,2.451,-.462,2.496,-.446,
2.523,-.454,2.559,-.462,2.586,-.446,2.613,-.462,2.636,-.446,2.667,-.446,2.690,-.446,2.455,-.400,2.487,-.415,2.518,-.400,2.545,-.384,2.573,-.415,2.600,-.400,2.627,-.400,2.654,-.400,
2.681,-.408,2.708,-.415,
2.491,-1.38,2.553,-1.255,2.555,-1.434,2.580,-1.581,2.540,-2.109,2.523,-.96,2.552,-.999,2.590,-.883,2.602,-1.209,2.619,-1.248,2.636,-.96,2.673,-1.543,2.695,-1.27,2.704,-1.768,2.722,-1.519,
2.729,-.96,2.799,-1.286,2.800,-1.566,2.265,-1.139,2.133,-.797,2.167,-.766,2.292,-.789,2.409,-.828,2.484,-.805,2.614,-.79,2.680,-1.0,
2.541,.933,2.551,.912,2.560,.899,2.496,.902,2.517,.899,2.532,.91,2.570,.896,2.580,.91,2.605,.912,2.639,.92,2.675,.92,2.697,.933,2.735,.926,2.746,.912,2.774,.922,2.790,.906,2.818,.933,
2.841,.91,2.882,.872,2.808,.849,2.820,.824,2.827,.80,
// crowded tail at short periods
1.945,.22,1.952,.15,1.955,.26,1.962,.22,1.968,.12,1.972,.28,1.978,.17,1.985,.21,1.99,.10,1.993,.16,1.998,.05,2.0,.14,2.006,.08,2.01,.12,1.995,.29,2.002,.25,2.008,.31,2.012,.18,2.015,.27,
2.019,.34,2.021,.14,2.024,.31,2.027,.22,2.029,.38,2.033,.11,2.035,.35,2.038,.18,2.04,.40,2.043,.08,2.046,.37,2.048,.12,2.05,.34,2.053,.05,2.056,.42,2.058,.10,2.06,.37,2.062,.02,2.065,.43,
2.068,.06,2.07,.39,2.073,-.02,2.075,.46,2.078,.05,2.08,.41,2.083,.0,2.085,.44,2.088,.04,2.09,-.03,2.093,.42,2.095,.07,2.098,.47,2.1,-.01,2.103,.06,2.105,.43,2.108,-.04,2.11,.02,2.112,.45,
2.115,.47,2.117,-.06,2.12,.03,2.122,.41,2.125,-.02,2.127,.49,2.13,.01,2.132,.44,2.135,-.05,2.137,.50,2.14,-.02,2.142,.46,2.145,-.08,2.147,.52,2.15,-.03,2.152,.48,2.155,-.06,2.157,.43,
// just above the core
2.16,.53,2.165,.46,2.17,.50,2.175,.55,2.178,.48,2.182,.53,2.186,.46,2.19,.58,2.194,.50,2.198,.54,2.202,.48,2.205,.60,2.21,.52,2.214,.57,2.218,.50,2.222,.62,2.226,.54,2.23,.50,2.234,.57,
2.238,.64,2.242,.55,2.246,.60,2.25,.52,2.254,.66,2.258,.56,2.262,.61,2.266,.53,2.27,.58,2.274,.68,2.278,.55,2.282,.63,2.286,.58,2.29,.70,2.294,.56,2.298,.62,2.302,.58,2.306,.68,2.31,.55,
2.314,.63,2.318,.57,2.322,.71,2.326,.60,2.33,.66,2.334,.58,2.338,.63,2.342,.60,2.346,.73,2.35,.62,2.354,.67,2.358,.58,2.362,.70,2.366,.61,2.37,.65,2.374,.57,2.378,.77,2.382,.62,2.386,.68,
2.39,.60,2.394,.74,2.398,.62,2.402,.66,2.406,.60,2.41,.80,2.414,.63,2.418,.70,2.422,.60,2.426,.75,2.43,.63,2.434,.68,2.438,.60,2.442,.83,2.446,.65,2.45,.72,2.454,.62,2.458,.79,2.462,.64,
2.466,.70,2.47,.62,2.474,.76,2.478,.65,2.482,.69,2.486,.62,2.49,.84,2.494,.66,2.498,.73,2.502,.63,2.506,.78,2.51,.66,2.514,.71,2.518,.65,2.522,.86,2.526,.67,2.53,.74,2.534,.65,2.538,.82,
2.542,.68,2.546,.76,2.55,.66,2.554,.87,2.558,.72,2.562,.80,2.566,.70,2.57,.88,2.574,.74,2.578,.83,2.582,.70,2.586,.89,2.59,.78,2.594,.86,2.598,.74,2.602,.91,2.606,.84,2.61,.90,
// a second pass over the band above the core
2.168,.44,2.184,.51,2.2,.52,2.216,.47,2.232,.53,2.248,.56,2.264,.57,2.28,.60,2.296,.60,2.312,.60,2.328,.63,2.344,.65,2.36,.64,2.376,.66,2.392,.66,2.408,.67,2.424,.66,2.44,.67,2.456,.69,
2.472,.68,2.488,.70,2.504,.68,2.52,.70,2.536,.72,2.552,.75,2.568,.76,2.584,.77,2.6,.80,2.61,.86,2.476,.72,2.448,.75,2.416,.73,2.38,.69,2.352,.71,2.32,.67,2.288,.66,2.256,.62,2.224,.58,2.192,.55,
// just below the core
2.16,.01,2.165,-.05,2.17,.0,2.175,-.09,2.18,-.03,2.185,-.12,2.19,-.05,2.195,-.16,2.2,-.06,2.205,-.10,2.21,-.04,2.215,-.13,2.22,-.07,2.225,-.18,2.23,-.08,2.235,-.12,2.24,-.06,2.245,-.21,2.25,-.12,
2.255,-.17,2.26,-.13,2.265,-.24,2.27,-.14,2.275,-.19,2.28,-.11,2.285,-.26,2.29,-.14,2.295,-.20,2.3,-.16,2.305,-.30,2.31,-.18,2.315,-.24,2.32,-.15,2.325,-.32,2.33,-.19,2.335,-.25,2.34,-.16,
2.345,-.33,2.35,-.21,2.355,-.27,2.36,-.19,2.365,-.36,2.37,-.22,2.375,-.29,2.38,-.20,2.385,-.38,2.39,-.24,2.395,-.31,2.4,-.21,2.405,-.41,2.41,-.26,2.415,-.34,2.42,-.24,2.425,-.43,2.43,-.28,
2.435,-.36,2.44,-.27,2.445,-.44,2.45,-.31,2.455,-.37,2.46,-.28,2.465,-.45,2.47,-.33,2.475,-.39,2.48,-.31,2.485,-.47,2.49,-.35,2.495,-.41,2.5,-.31,2.505,-.50,2.51,-.36,2.515,-.43,2.52,-.33,
2.525,-.52,2.53,-.38,2.535,-.45,2.54,-.35,2.545,-.50,2.55,-.39,2.555,-.46,2.56,-.36,2.565,-.53,2.57,-.41,2.575,-.47,2.58,-.36,2.585,-.55,2.59,-.42,2.595,-.49,2.6,-.37,2.605,-.52,2.61,-.43,
2.615,-.50,2.62,-.37,2.625,-.56,2.63,-.42,2.635,-.49,2.64,-.33,2.645,-.52,2.65,-.40,2.655,-.47,2.66,-.35,2.665,-.55,2.67,-.40,2.675,-.47,2.68,-.32,2.685,-.53,2.69,-.38,2.695,-.45,2.7,-.30,
2.705,-.49,2.71,-.36,2.715,-.43,2.72,-.27,2.725,-.47,2.73,-.33,2.735,-.40,2.74,-.22,2.745,-.36,2.75,-.28,2.755,-.33,2.76,-.19,2.765,-.31,2.77,-.24,2.775,-.15,2.78,-.22,
// a second pass over the band below the core
2.172,-.04,2.188,-.08,2.204,-.13,2.22,-.12,2.236,-.16,2.252,-.15,2.268,-.19,2.284,-.18,2.3,-.22,2.316,-.20,2.332,-.23,2.348,-.25,2.364,-.26,2.38,-.27,2.396,-.27,2.412,-.30,2.428,-.32,2.444,-.33,
2.46,-.35,2.476,-.35,2.492,-.38,2.508,-.39,2.524,-.40,2.54,-.41,2.556,-.41,2.572,-.43,2.588,-.38,2.604,-.42,2.62,-.43,2.636,-.41,2.652,-.43,2.668,-.42,2.684,-.42,2.7,-.39,2.716,-.38,2.732,-.36,
2.748,-.33,2.764,-.25,2.44,-.31,2.472,-.30,2.50,-.36,2.532,-.35,2.564,-.38,2.596,-.35,2.628,-.35,2.66,-.33,2.692,-.34,2.724,-.30,2.756,-.22,
// long-period edge of the core
2.75,.86,2.755,.72,2.76,.64,2.765,.78,2.77,.55,2.775,.68,2.78,.46,2.785,.58,2.79,.36,2.795,.48,2.80,.60,2.805,.28,2.81,.42,2.815,.18,2.82,.35,2.825,.05,2.83,.16,2.835,-.05,2.84,.37,2.765,.47,
2.77,.39,2.775,.30,2.78,.34,2.785,.22,2.79,.27,2.795,.11,2.80,.23,2.805,.09,2.81,.30,2.815,.02,2.82,.24,2.825,.39,2.83,.44,2.77,.16,2.775,.08,2.78,.05,2.785,.10,2.79,-.04,2.795,.04,
2.80,-.07,2.81,-.02,2.82,.14,2.76,.42,2.765,.21,2.77,-.02,2.775,-.10,2.78,-.14,2.76,.06,2.755,-.10,2.765,-.12,2.77,-.18,2.74,.78,2.745,.62,2.75,.60,2.755,.58,2.735,.80,2.725,.80,2.715,.86,
2.762,.54,2.768,.33,2.772,.24,2.776,.44,2.782,.13,2.788,.42,2.792,.20,2.797,.36,2.802,.42,2.808,.18,2.812,.10,2.772,.62,2.778,.53,2.784,.66,2.76,.28,2.764,.13,2.768,.06,2.774,-.03,2.782,-.05
];

// jagged outline of the solid core of the O-rich cloud, too dense to read point by point
var coreLogP  = [2.01,2.04,2.06,2.09,2.11,2.14,2.16,2.19,2.21,2.24,2.26,2.29,2.31,2.34,2.37,2.40,2.43,2.46,2.49,2.52,2.545,2.56,2.58,2.60,2.615,2.64,2.665,2.69,2.705,2.72,2.735,2.74,2.755,2.75,2.765,2.755,2.765,2.745,2.75,2.725,2.72,2.69,2.67,2.64,2.61,2.58,2.55,2.52,2.49,2.46,2.43,2.40,2.37,2.34,2.31,2.28,2.25,2.22,2.19,2.16,2.13,2.10,2.07,2.04,2.01];
var coreColor = [.24,.33,.31,.38,.36,.42,.40,.47,.44,.50,.48,.53,.51,.56,.54,.58,.56,.60,.58,.62,.60,.68,.66,.76,.84,.90,.91,.85,.86,.74,.70,.55,.50,.36,.30,.18,.10,.02,-.06,-.10,-.19,-.22,-.30,-.28,-.33,-.31,-.33,-.29,-.30,-.24,-.26,-.20,-.21,-.14,-.16,-.09,-.10,-.03,-.03,.03,.03,.09,.09,.14,.19];

// histogram of all Miras, 0.05 mag bins from the top of the panel down
var binTop = 4.275;
var binWidth = 0.05;
var binCounts = [2,0,0,0,0,1,3,2,2,0,4,1,2,2,4,0,2,3,1,2,5,10,10,7,14,11,11,16,18,15,22,17,19,36,28,28,35,34,44,46,45,48,50,61,67,55,55,55,68,70,60,58,58,52,69,46,55,55,65,73,58,62,77,97,99,90,101,139,175,175,246,310,358,474,815,1517,2624,4057,5608,6470,6470,6300,5300,4450,3700,2790,2110,1545,988,723,498,271,168,130,71,46,29,20,11,9,4,6,0,1,3,3,2,0,2,0,4,1,0,2,0,0,0,2,0,0,1,0,0,0,0,0,0,1,0,0,0,0,0,0,0,0,0,0,0,0,0,0,0,0,0,0,0,0,0,0,0,0,1];

// fit curves, top to bottom
var cFitColor = [3.665,3.577,3.483,3.402,3.30,3.199,3.077,2.989,2.901,2.779,2.63,2.529,2.428,2.292,2.144,2.022,1.914,1.738,1.603,1.494,1.386,1.264,1.197,1.102,.94,.845,.723,.588,.453,.372,.237,.101,-.034,-.169,-.304,-.44,-.517];
var cFitCount = [1,1.5,2.11,2.79,3.81,5.37,7.8,9.9,12.4,16.5,22.7,27.6,33,41.8,48.9,54,59,64.7,65.9,65.5,62.7,59,56,50.4,44.5,38.9,31.6,24.2,17.8,15,11.1,7.67,5.13,3.35,2.14,1.32,1];
var oFitColor = [1.325,1.237,1.156,1.061,.98,.94,.872,.791,.71,.656,.601,.534,.48,.432,.385,.331,.263,.237,.196,.149,.068,.007,-.061,-.129,-.21,-.304,-.392,-.467,-.561,-.629,-.697,-.778,-.825,-.859,-.93];
var oFitCount = [1,2.54,5.7,14.5,30.6,44.5,73,136,254,381,571,1032,1698,2624,3811,5045,6270,6390,6390,6080,4890,3470,1983,1169,571,239,141,78,37,23.9,12.8,5.7,3.3,2,1];
var sumFitColor = [3.665,3.577,3.483,3.402,3.30,3.199,3.077,2.989,2.901,2.779,2.63,2.529,2.428,2.292,2.144,2.022,1.914,1.738,1.603,1.494,1.386,1.264,1.17,1.075,.98,.886,.804,.71,.656,.601,.534,.48,.432,.385,.331,.263,.237,.196,.149,.068,.007,-.061,-.129,-.21,-.304,-.392,-.467,-.561,-.629,-.697,-.778,-.825,-.859,-.94];
var sumFitCount = [1,1.5,2.11,2.79,3.81,5.37,7.8,9.9,12.4,16.5,22.7,27.6,33,41.8,48.9,54,59,64.7,65.9,65.5,63.5,61.5,62.7,65.5,79,110,164,254,395,595,1060,1730,2650,3840,5060,6280,6400,6400,6090,4900,3480,1990,1175,575,240,142,78,37,23.9,12.8,5.7,3.3,2,1];

// colours
var RED = '#FF0000', BLUE = '#4169E1', GREEN = '#ADFF2F', LIME = '#32CD32';
var FONT = 'DejaVu Sans';

function pairs(flat) {
    var out = [];
    for (var i = 0; i < flat.length; i += 2) {
        out.push([flat[i], flat[i + 1]]);
    }
    return out;
}
function zip(xs, ys) {
    return xs.map(function (x, i) { return [x, ys[i]]; });
}

// step outline of the horizontal histogram, empty bins leave a gap
function histOutline() {
    var out = [], prev = 0;
    binCounts.forEach(function (c, i) {
        var top = binTop - i * binWidth, bottom = top - binWidth;
        if (c > 0) {
            if (prev === 0) { out.push([1, top]); }
            out.push([c, top], [c, bottom]);
        } else if (prev > 0) {
            out.push([1, top], [null, null]);
        }
        prev = c;
    });
    return out;
}

var SPINE = 3.33, LINE = 8.33;
var tickStyle = { show: true, length: 14.6, inside: false, lineStyle: { color: '#000', width: SPINE } };
var lineAxis = { show: true, onZero: false, lineStyle: { color: '#000', width: SPINE } };
var textStyle = { fontFamily: FONT, fontSize: 75, color: '#000' };
// the legend keys of the line series show only the line
var lineKey = { itemStyle: { opacity: 0 } };
var legendLine = { width: 'inherit', type: 'inherit', color: 'inherit', cap: 'butt' };

var chart = echarts.init(document.getElementById('chart'));
chart.setOption({
    animation: false,
    backgroundColor: '#fff',
    title: {
        text: 'Miras in the Milky Way',
        left: 1160,
        top: 202,
        textAlign: 'center',
        textStyle: { fontFamily: FONT, fontSize: 75, fontWeight: 'normal', color: '#000' }
    },
    legend: [
        {
            left: 436, top: 1769, orient: 'vertical', selectedMode: false,
            itemWidth: 150, itemHeight: 24, itemGap: 36,
            lineStyle: legendLine,
            textStyle: { fontFamily: FONT, fontSize: 75, color: '#000', lineHeight: 60, padding: [0, 0, 0, 52] },
            data: [
                { name: 'C-rich Miras', icon: 'circle' },
                { name: 'O-rich Miras', icon: 'circle' },
                Object.assign({ name: 'division line' }, lineKey)
            ]
        },
        {
            left: 2114, top: 1558, orient: 'vertical', selectedMode: false,
            itemWidth: 125, itemHeight: 44, itemGap: 28,
            lineStyle: legendLine,
            textStyle: { fontFamily: FONT, fontSize: 62.5, color: '#000', lineHeight: 44, padding: [0, 0, 0, 44] },
            data: [
                { name: 'intercept', icon: 'circle' },
                Object.assign({ name: 'C-rich fit' }, lineKey),
                Object.assign({ name: 'O-rich fit' }, lineKey),
                Object.assign({ name: 'combined fit' }, lineKey),
                Object.assign({ name: 'division line ' }, lineKey),
                { name: 'all Miras', icon: 'rect', itemStyle: { color: 'transparent', borderColor: '#000', borderWidth: LINE } }
            ]
        }
    ],
    grid: [
        { left: 375, top: 288, width: 1582, height: 1848, show: true, borderColor: '#000', borderWidth: SPINE, backgroundColor: 'transparent' },
        { left: 2068, top: 288, width: 632, height: 1848, show: true, borderColor: '#000', borderWidth: SPINE, backgroundColor: 'transparent' }
    ],
    xAxis: [
        {
            type: 'value', gridIndex: 0, min: 1.8, max: 3.2, interval: 0.2,
            axisLine: lineAxis, axisTick: tickStyle, splitLine: { show: false },
            axisLabel: Object.assign({ margin: 27, formatter: function (v) { return v.toFixed(1); }, showMinLabel: true, showMaxLabel: true }, textStyle),
            name: '{t|log}{i|P}{t| (d)}', nameLocation: 'middle', nameGap: 119,
            nameTextStyle: { rich: { t: textStyle, i: Object.assign({ fontStyle: 'italic' }, textStyle) } }
        },
        {
            type: 'log', gridIndex: 1, logBase: 10, min: 1, max: 11500,
            axisLine: lineAxis, minorTick: { show: false }, splitLine: { show: false },
            axisTick: Object.assign({ customValues: countTicks }, tickStyle),
            axisLabel: Object.assign({ margin: 27, customValues: countTicks, showMinLabel: true, formatter: function (v) { return String(v); } }, textStyle),
            name: '# of Miras', nameLocation: 'middle', nameGap: 119,
            nameTextStyle: textStyle
        }
    ],
    yAxis: [
        {
            type: 'value', gridIndex: 0, min: -3.224, max: 4.276,
            axisLine: lineAxis, splitLine: { show: false },
            axisTick: Object.assign({ customValues: colorTicks }, tickStyle),
            axisLabel: Object.assign({ margin: 29, verticalAlign: 'top', lineHeight: 10, customValues: colorTicks, formatter: function (v) { return String(v).replace('-', '\u2212'); } }, textStyle),
            name: '{t|(}{i|W}{t|1 \u2212 }{i|W}{t|2)}{s|0}{t| (mag)}', nameLocation: 'middle', nameGap: 156, nameRotate: 90,
            nameTextStyle: { rich: { t: textStyle, i: Object.assign({ fontStyle: 'italic' }, textStyle), s: { fontFamily: FONT, fontSize: 52, color: '#000', verticalAlign: 'bottom', padding: [0, 0, -14, 0] } } }
        },
        {
            type: 'value', gridIndex: 1, min: -3.224, max: 4.276,
            axisLine: lineAxis, splitLine: { show: false },
            axisTick: Object.assign({ customValues: colorTicks }, tickStyle),
            axisLabel: { show: false }
        }
    ],
    series: [
        {
            name: 'O-rich core', type: 'custom', coordinateSystem: 'cartesian2d', xAxisIndex: 0, yAxisIndex: 0, silent: true,
            data: zip(coreLogP, coreColor), encode: { x: 0, y: 1 },
            renderItem: function (params, api) {
                if (params.dataIndex !== 0) { return; }
                return {
                    type: 'polygon',
                    shape: { points: coreLogP.map(function (x, i) { return api.coord([x, coreColor[i]]); }) },
                    style: { fill: BLUE }
                };
            }
        },
        {
            name: 'O-rich Miras', type: 'scatter', xAxisIndex: 0, yAxisIndex: 0, silent: true, symbolSize: 7,
            itemStyle: { color: BLUE, opacity: 1 }, data: pairs(oRichPoints)
        },
        {
            name: 'C-rich Miras', type: 'scatter', xAxisIndex: 0, yAxisIndex: 0, silent: true, symbolSize: 7,
            itemStyle: { color: RED, opacity: 1 }, data: pairs(cRichPoints)
        },
        {
            name: 'division line', type: 'line', xAxisIndex: 0, yAxisIndex: 0, silent: true, showSymbol: false, symbol: 'none',
            lineStyle: { color: '#000', width: LINE, type: [30.8, 13.3] }, itemStyle: { color: '#000' },
            data: [[1.8, divisionColor], [3.2, divisionColor]]
        },
        {
            name: 'all Miras', type: 'line', xAxisIndex: 1, yAxisIndex: 1, silent: true, showSymbol: false, symbol: 'none',
            lineStyle: { color: '#000', width: LINE, join: 'miter' }, itemStyle: { color: '#000' },
            data: histOutline(), connectNulls: false
        },
        {
            name: 'C-rich fit', type: 'line', xAxisIndex: 1, yAxisIndex: 1, silent: true, showSymbol: false, symbol: 'none', smooth: 0.4,
            lineStyle: { color: RED, width: LINE }, itemStyle: { color: RED },
            data: zip(cFitCount, cFitColor)
        },
        {
            name: 'O-rich fit', type: 'line', xAxisIndex: 1, yAxisIndex: 1, silent: true, showSymbol: false, symbol: 'none', smooth: 0.4,
            lineStyle: { color: BLUE, width: LINE }, itemStyle: { color: BLUE },
            data: zip(oFitCount, oFitColor)
        },
        {
            name: 'combined fit', type: 'line', xAxisIndex: 1, yAxisIndex: 1, silent: true, showSymbol: false, symbol: 'none', smooth: 0.4,
            lineStyle: { color: GREEN, width: 12.5, type: [80, 20, 12.5, 20], cap: 'butt' }, itemStyle: { color: GREEN },
            data: zip(sumFitCount, sumFitColor)
        },
        {
            name: 'division line ', type: 'line', xAxisIndex: 1, yAxisIndex: 1, silent: true, showSymbol: false, symbol: 'none',
            lineStyle: { color: '#000', width: LINE, type: [30.8, 13.3] }, itemStyle: { color: '#000' },
            data: [[1, divisionColor], [11500, divisionColor]]
        },
        {
            name: 'intercept', type: 'scatter', xAxisIndex: 1, yAxisIndex: 1, silent: true, symbolSize: 45, z: 5,
            itemStyle: { color: LIME, opacity: 1 }, data: [[interceptCount, divisionColor]]
        }
    ]
});
</script>
</body>
</html>
